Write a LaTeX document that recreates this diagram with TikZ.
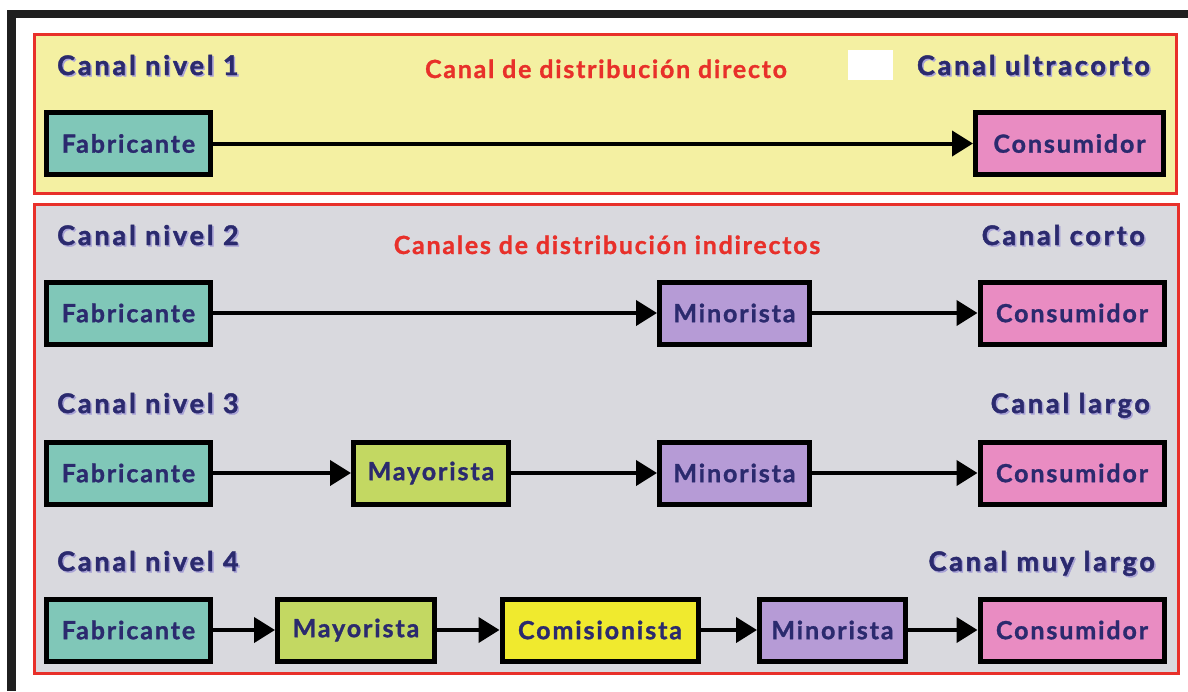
\documentclass[tikz,border=0pt]{standalone}
\usepackage{fontspec}
\setmainfont{Lato}
\newfontfamily\headf[LetterSpace=10.5, BoldFeatures={FakeBold=1.6}]{Lato}
\newfontfamily\boxf[LetterSpace=7.6, BoldFeatures={FakeBold=1.2}]{Lato}
\newfontfamily\redf[LetterSpace=7, BoldFeatures={FakeBold=1}]{Lato}
\usetikzlibrary{arrows.meta}
\definecolor{navy}{HTML}{2B2A6E}
\definecolor{shad}{HTML}{A9A3D6}
\definecolor{redc}{HTML}{E8302A}
\definecolor{yelbg}{HTML}{F4F0A2}
\definecolor{greybg}{HTML}{D9D9DE}
\definecolor{fabc}{HTML}{80C7B8}
\definecolor{consc}{HTML}{E98CC2}
\definecolor{minc}{HTML}{B69BD6}
\definecolor{mayc}{HTML}{C3D862}
\definecolor{comc}{HTML}{F0EA2E}
\tikzset{
  x=1pt, y=-1pt,
  box/.style={draw=black, line width=5pt, inner sep=0pt, minimum height=62pt,
    font=\boxf\fontsize{25}{25}\bfseries, text=navy},
  fab/.style={box, fill=fabc, minimum width=164pt},
  cons/.style={box, fill=consc, minimum width=184pt},
  mino/.style={box, fill=minc, minimum width=150pt},
  mayo/.style={box, fill=mayc, minimum width=155pt},
  comi/.style={box, fill=comc, minimum width=196pt},
  head/.style={font=\headf\fontsize{27}{27}\bfseries, text=navy, inner sep=0pt},
  redt/.style={font=\redf\fontsize{25}{25}\bfseries, text=redc, inner sep=0pt, anchor=base},
  flow/.style={line width=4pt, -{Triangle[length=21pt,width=25pt]}},
  frame/.style={draw=redc, line width=3pt}
}
\begin{document}
\begin{tikzpicture}
\useasboundingbox (0,0) rectangle (1188,691);
\fill[white] (0,0) rectangle (1188,691);
% black frame
\fill[black!88] (7,10) rectangle (1188,18);
\fill[black!88] (7,10) rectangle (16,691);
% panels
\draw[frame, fill=yelbg] (34.5,34.5) rectangle (1176.5,193.5);
\draw[frame, fill=greybg] (34.5,204.5) rectangle (1178.5,673.5);
\fill[white] (848,50) rectangle (893,80);
% headings
\foreach \t/\x/\y/\a in {{Canal nivel 1}/57/75/base west, {Canal ultracorto}/1150/75/base east,
  {Canal nivel 2}/57/245/base west, {Canal corto}/1145/245/base east,
  {Canal nivel 3}/57/413/base west, {Canal largo}/1150/413/base east,
  {Canal nivel 4}/57/571/base west, {Canal muy largo}/1155/571/base east}{
  \node[head, anchor=\a, text=shad] at (\x+1.5,\y+1.5) {\t};
  \node[head, anchor=\a] at (\x,\y) {\t};
}
\node[redt] (r1) at (606,78) {Canal de distribución directo};
\node[redt] (r2) at (607,254) {Canales de distribución indirectos};
% row 1
\node[fab] (f1) at (128.5,143.5) {Fabricante};
\node[cons, minimum width=188pt] (c1) at (1069.5,143.5) {Consumidor};
\draw[flow] (f1) -- (c1);
% row 2
\node[fab] (f2) at (128.5,313) {Fabricante};
\node[mino] (m2) at (734.5,313) {Minorista};
\node[cons] (c2) at (1072,313) {Consumidor};
\draw[flow] (f2) -- (m2);
\draw[flow] (m2) -- (c2);
% row 3
\node[fab] (f3) at (128.5,473) {Fabricante};
\node[mayo] (y3) at (431,473) {Mayorista};
\node[mino] (m3) at (734.5,473) {Minorista};
\node[cons] (c3) at (1072,473) {Consumidor};
\draw[flow] (f3) -- (y3);
\draw[flow] (y3) -- (m3);
\draw[flow] (m3) -- (c3);
% row 4
\node[fab] (f4) at (128.5,630) {Fabricante};
\node[mayo, minimum width=157pt] (y4) at (356,630) {Mayorista};
\node[comi] (k4) at (600,630) {Comisionista};
\node[mino, minimum width=146pt] (m4) at (832.5,630) {Minorista};
\node[cons] (c4) at (1072,630) {Consumidor};
\draw[flow] (f4) -- (y4);
\draw[flow] (y4) -- (k4);
\draw[flow] (k4) -- (m4);
\draw[flow] (m4) -- (c4);
\end{tikzpicture}
\end{document}
